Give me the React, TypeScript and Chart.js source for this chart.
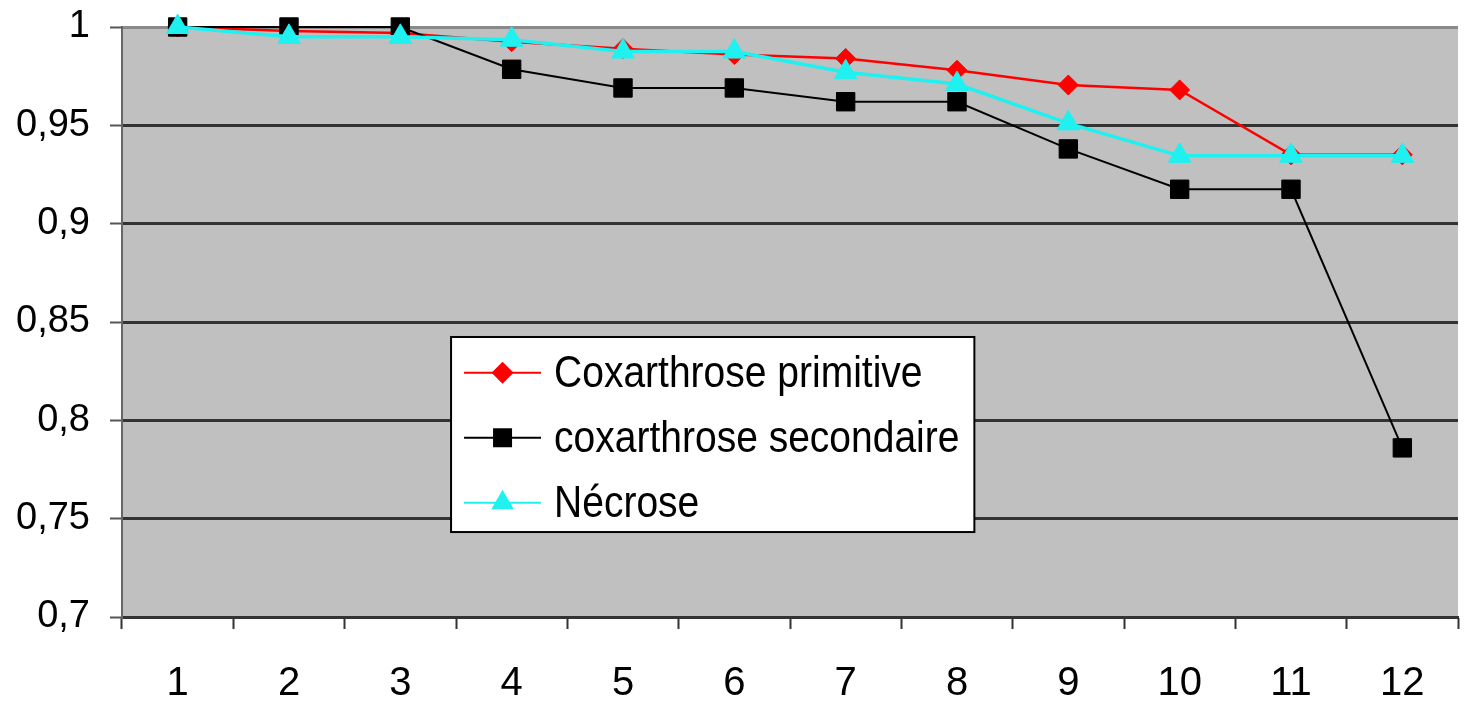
import React, { useEffect, useRef } from "react";
import { Chart, registerables } from "chart.js";

Chart.register(...registerables);

const categories = ["1", "2", "3", "4", "5", "6", "7", "8", "9", "10", "11", "12"];
const primitive = [1, 0.998, 0.997, 0.9925, 0.989, 0.986, 0.984, 0.978, 0.9705, 0.968, 0.935, 0.935];
const secondaire = [1, 1, 1, 0.9785, 0.969, 0.969, 0.962, 0.962, 0.938, 0.9175, 0.9175, 0.786];
const necrose = [1, 0.995, 0.995, 0.9935, 0.9875, 0.9875, 0.977, 0.971, 0.951, 0.9345, 0.9345, 0.9345];
const seriesLabels = ["Coxarthrose primitive", "coxarthrose secondaire", "Nécrose"];
const yMin = 0.7;
const yMax = 1;
const yStep = 0.05;

const FONT = "'Liberation Sans', Arial, sans-serif";
const RED = "#ff0000";
const BLACK = "#000000";
const CYAN = "#1ff0f0";

function drawMarker(ctx: CanvasRenderingContext2D, style: string, x: number, y: number, color: string) {
  ctx.save();
  ctx.fillStyle = color;
  ctx.beginPath();
  if (style === "rectRot") {
    const r = 11;
    ctx.moveTo(x, y - r);
    ctx.lineTo(x + r, y);
    ctx.lineTo(x, y + r);
    ctx.lineTo(x - r, y);
  } else if (style === "rect") {
    const s = 9.5;
    ctx.rect(x - s, y - s, 2 * s, 2 * s);
  } else {
    const r = 13;
    ctx.moveTo(x, y - r);
    ctx.lineTo(x + r * 0.866, y + r * 0.5);
    ctx.lineTo(x - r * 0.866, y + r * 0.5);
  }
  ctx.closePath();
  ctx.fill();
  ctx.restore();
}

const bgPlugin = {
  id: "plotBg",
  beforeDraw(chart: any) {
    const { ctx, chartArea } = chart;
    ctx.save();
    ctx.fillStyle = "#ffffff";
    ctx.fillRect(0, 0, chart.width, chart.height);
    ctx.fillStyle = "#c0c0c0";
    ctx.fillRect(chartArea.left, chartArea.top, chartArea.right - chartArea.left, chartArea.bottom - chartArea.top);
    ctx.restore();
  },
};

const legendPlugin = {
  id: "innerLegend",
  afterDatasetsDraw(chart: any) {
    const { ctx, chartArea } = chart;
    const w = chartArea.right - chartArea.left;
    const h = chartArea.bottom - chartArea.top;
    const left = chartArea.left + 0.2463 * w;
    const right = chartArea.left + 0.638 * w;
    const top = chartArea.top + 0.5254 * h;
    const bottom = chartArea.top + 0.856 * h;
    ctx.save();
    ctx.fillStyle = "#ffffff";
    ctx.fillRect(left, top, right - left, bottom - top);
    ctx.strokeStyle = "#000000";
    ctx.lineWidth = 2;
    ctx.strokeRect(left, top, right - left, bottom - top);
    const rowH = (bottom - top) / 3;
    chart.data.datasets.forEach((ds: any, i: number) => {
      const y = top + rowH * (i + 0.55);
      const x0 = left + 13;
      const x1 = left + 90;
      ctx.strokeStyle = ds.borderColor;
      ctx.lineWidth = 2;
      ctx.beginPath();
      ctx.moveTo(x0, y);
      ctx.lineTo(x1, y);
      ctx.stroke();
      drawMarker(ctx, ds.pointStyle, (x0 + x1) / 2, y, ds.pointBackgroundColor);
      ctx.save();
      ctx.translate(left + 103, y);
      ctx.scale(1, 1.12);
      ctx.fillStyle = "#000000";
      ctx.font = `39px ${FONT}`;
      ctx.textBaseline = "middle";
      ctx.textAlign = "left";
      ctx.fillText(ds.label, 0, 2);
      ctx.restore();
    });
    ctx.restore();
  },
};

export default function App() {
  const ref = useRef<HTMLCanvasElement | null>(null);
  useEffect(() => {
    if (!ref.current) return;
    const chart = new Chart(ref.current, {
      type: "line",
      data: {
        labels: categories,
        datasets: [
          {
            label: seriesLabels[0],
            data: primitive,
            borderColor: RED,
            backgroundColor: RED,
            pointBackgroundColor: RED,
            pointBorderColor: RED,
            pointStyle: "rectRot",
            pointRadius: 10,
            pointBorderWidth: 1,
            borderWidth: 2.5,
            tension: 0,
            order: 3,
            clip: false,
          },
          {
            label: seriesLabels[1],
            data: secondaire,
            borderColor: BLACK,
            backgroundColor: BLACK,
            pointBackgroundColor: BLACK,
            pointBorderColor: BLACK,
            pointStyle: "rect",
            pointRadius: 13,
            pointBorderWidth: 1,
            borderWidth: 2,
            tension: 0,
            order: 2,
            clip: false,
          },
          {
            label: seriesLabels[2],
            data: necrose,
            borderColor: CYAN,
            backgroundColor: CYAN,
            pointBackgroundColor: CYAN,
            pointBorderColor: CYAN,
            pointStyle: "triangle",
            pointRadius: 13,
            pointBorderWidth: 1,
            borderWidth: 3.5,
            tension: 0,
            order: 1,
            clip: false,
          },
        ] as any,
      },
      options: {
        animation: false,
        responsive: false,
        devicePixelRatio: 1,
        layout: { padding: { top: 27, right: 6, left: 0, bottom: 0 } },
        plugins: { legend: { display: false }, tooltip: { enabled: false } },
        scales: {
          x: {
            type: "category",
            offset: true,
            grid: {
              offset: true,
              drawOnChartArea: false,
              drawTicks: true,
              tickLength: 12,
              tickColor: "#333333",
              tickWidth: 2,
            },
            border: { display: true, color: "#333333", width: 2 },
            ticks: {
              color: "#000000",
              font: { family: FONT, size: 40 },
              padding: 31,
              maxRotation: 0,
              autoSkip: false,
            },
            afterFit: (s: any) => {
              s.height = 90;
              s.paddingLeft = 0;
              s.paddingRight = 0;
            },
          },
          y: {
            min: yMin,
            max: yMax,
            grid: {
              color: (c: any) => (c.tick && Math.abs(c.tick.value - yMax) < 1e-6 ? "#8a8a8a" : "#333333"),
              lineWidth: 3,
              drawTicks: true,
              tickLength: 12,
              tickColor: "#555555",
              tickWidth: 2,
            },
            border: { display: true, color: "#666666", width: 2 },
            ticks: {
              stepSize: yStep,
              color: "#000000",
              font: { family: FONT, size: 38 },
              padding: 20,
              callback: (v: any) => String(Number(Number(v).toFixed(2))).replace(".", ","),
            },
            afterFit: (s: any) => {
              s.width = 122;
              s.paddingTop = 0;
              s.paddingBottom = 0;
            },
          },
        },
      } as any,
      plugins: [bgPlugin, legendPlugin],
    });
    return () => chart.destroy();
  }, []);
  return (
    <div style={{ position: "fixed", left: 0, top: 0, width: 1472, height: 707, background: "#fff" }}>
      <canvas ref={ref} width={1472} height={707} style={{ width: 1472, height: 707, display: "block" }} />
    </div>
  );
}
